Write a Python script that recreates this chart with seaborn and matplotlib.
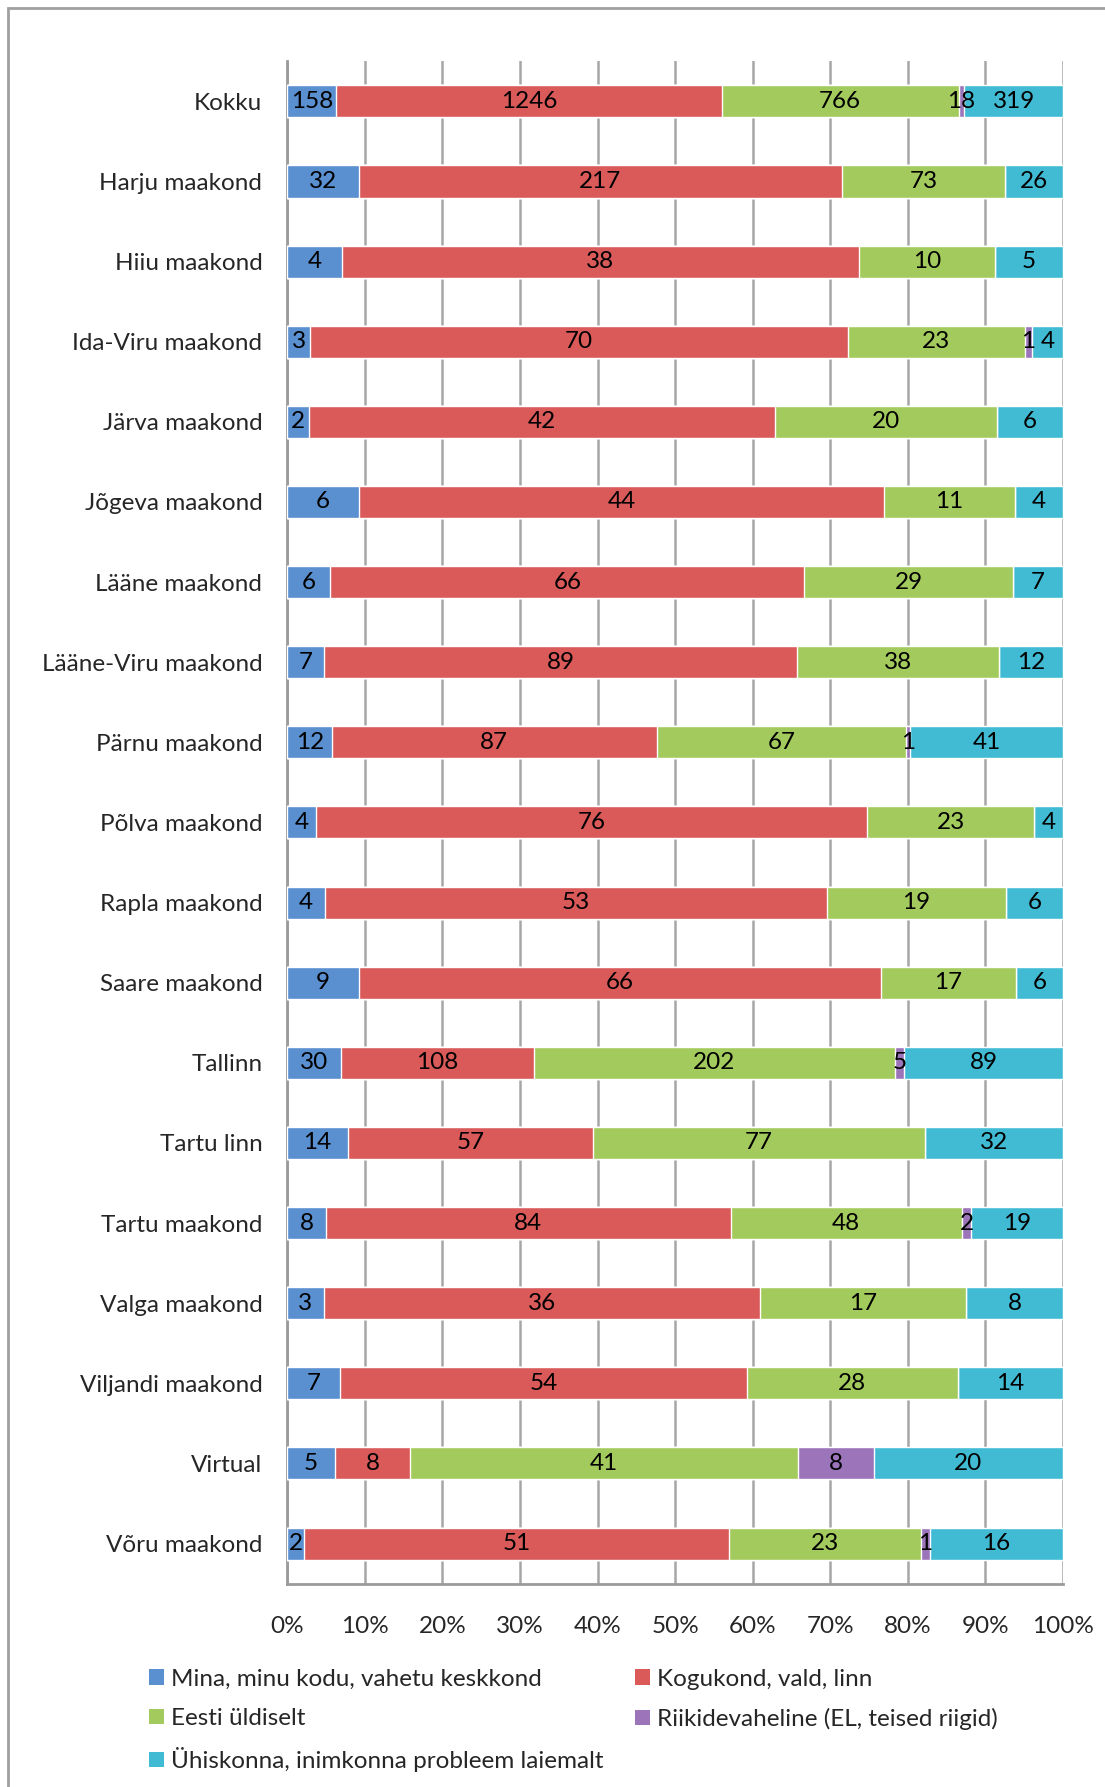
import numpy as np
import pandas as pd
import matplotlib.pyplot as plt
import seaborn as sns
from matplotlib.patches import Patch, Rectangle

categories = ['Kokku', 'Harju maakond', 'Hiiu maakond', 'Ida-Viru maakond', 'Järva maakond',
              'Jõgeva maakond', 'Lääne maakond', 'Lääne-Viru maakond', 'Pärnu maakond',
              'Põlva maakond', 'Rapla maakond', 'Saare maakond', 'Tallinn', 'Tartu linn',
              'Tartu maakond', 'Valga maakond', 'Viljandi maakond', 'Virtual', 'Võru maakond']
mina = [158, 32, 4, 3, 2, 6, 6, 7, 12, 4, 4, 9, 30, 14, 8, 3, 7, 5, 2]
kogukond = [1246, 217, 38, 70, 42, 44, 66, 89, 87, 76, 53, 66, 108, 57, 84, 36, 54, 8, 51]
eesti = [766, 73, 10, 23, 20, 11, 29, 38, 67, 23, 19, 17, 202, 77, 48, 17, 28, 41, 23]
riikide = [18, 0, 0, 1, 0, 0, 0, 0, 1, 0, 0, 0, 5, 0, 2, 0, 0, 8, 1]
yhiskond = [319, 26, 5, 4, 6, 4, 7, 12, 41, 4, 6, 6, 89, 32, 19, 8, 14, 20, 16]

series = ['Mina, minu kodu, vahetu keskkond', 'Kogukond, vald, linn', 'Eesti üldiselt',
          'Riikidevaheline (EL, teised riigid)', 'Ühiskonna, inimkonna probleem laiemalt']
colors = ['#5A8FD0', '#DA5A5A', '#A3CA5D', '#9B74BA', '#41BBD4']

df = pd.DataFrame({'cat': categories, series[0]: mina, series[1]: kogukond,
                   series[2]: eesti, series[3]: riikide, series[4]: yhiskond})
vals = df[series].astype(float)
pct = vals.div(vals.sum(axis=1), axis=0) * 100
cum = pct.cumsum(axis=1)

sns.set_style('white')
plt.rcParams['font.family'] = ['Lato', 'DejaVu Sans']
fs = 17.5

fig = plt.figure(figsize=(11.05, 17.87), dpi=100)
ax = fig.add_axes([0.26, 0.1138, 0.702, 0.8519])

# draw cumulative bars from longest to shortest so each overlays the previous
for s, c in reversed(list(zip(series, colors))):
    sns.barplot(x=cum[s].values, y=df['cat'], color=c, orient='h', width=0.4,
                saturation=1, ax=ax, zorder=3)

# value labels
for i in range(len(df)):
    for j, s in enumerate(series):
        v = vals.iloc[i, j]
        if v == 0:
            continue
        left = cum.iloc[i, j] - pct.iloc[i, j]
        ax.text(left + pct.iloc[i, j] / 2, i, f'{int(v)}', ha='center', va='center',
                fontsize=fs, color='black', zorder=5)

ax.set_xlim(0, 100)
ax.set_ylim(len(df) - 0.5, -0.5)
ax.set_xticks(np.arange(0, 101, 10))
ax.set_xticklabels([f'{t}%' for t in range(0, 101, 10)], fontsize=fs)
ax.set_ylabel('')
ax.set_xlabel('')
ax.tick_params(axis='y', labelsize=fs, length=0, pad=18)
ax.set_yticks(np.arange(-0.5, len(df), 1), minor=True)
ax.tick_params(axis='y', which='minor', length=8, width=2, color='#9A9A9A', direction='out')
ax.tick_params(axis='x', length=8, width=2, color='#9A9A9A', direction='out', pad=15)
ax.grid(axis='x', color='#A6A6A6', linewidth=1.8, zorder=0)
ax.set_axisbelow(True)
for side in ['top', 'right']:
    ax.spines[side].set_visible(False)
for side in ['left', 'bottom']:
    ax.spines[side].set_color('#9A9A9A')
    ax.spines[side].set_linewidth(2)

handles = [Patch(facecolor=c, edgecolor='none') for c in colors]
order = [0, 2, 4, 1, 3]
fig.legend([handles[k] for k in order], [series[k] for k in order], ncol=2,
           loc='upper left', bbox_to_anchor=(0.115, 0.0785), frameon=False, fontsize=fs,
           handlelength=0.6, handleheight=0.6, handletextpad=0.3, columnspacing=1.3,
           labelspacing=0.75)

fig.patches.append(Rectangle((0.007, -0.1), 1.1, 1.0955, transform=fig.transFigure,
                             fill=False, edgecolor='#A0A0A0', linewidth=2))

fig.savefig('out.png', dpi=100)
